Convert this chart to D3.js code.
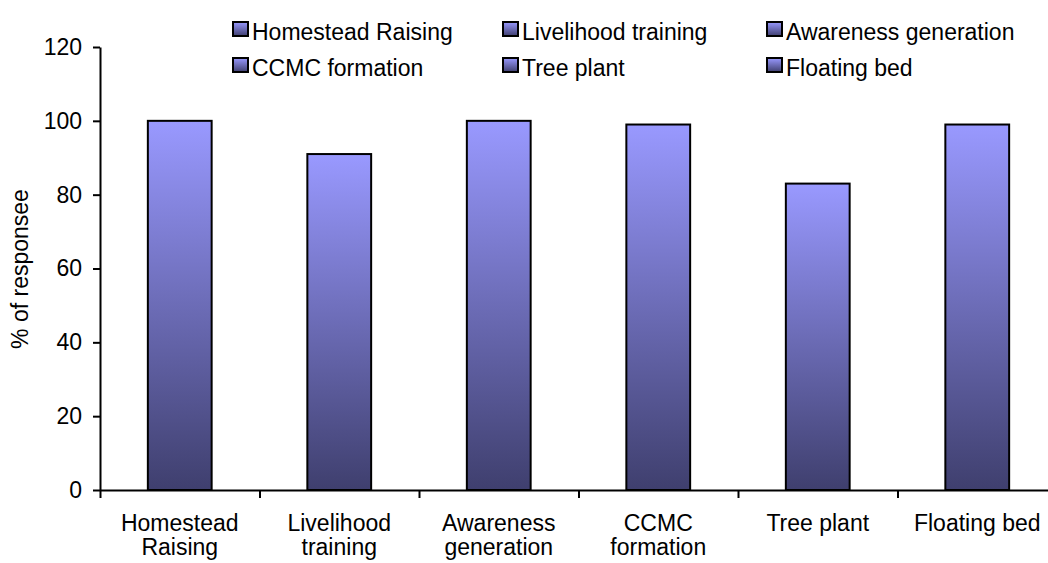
<!DOCTYPE html>
<html>
<head>
<meta charset="utf-8">
<script src="https://cdn.jsdelivr.net/npm/d3@7"></script>
<style>
  html, body { margin: 0; padding: 0; background: #fff; }
  svg { display: block; }
  text { font-family: "Liberation Sans", Arial, sans-serif; fill: #000; }
</style>
</head>
<body>
<svg id="chart" width="1048" height="563"></svg>
<script>
// ---- data ----
const categories = ["Homestead Raising", "Livelihood training", "Awareness generation", "CCMC formation", "Tree plant", "Floating bed"];
const values = [100, 91, 100, 99, 83, 99];
const xLabelLines = [["Homestead", "Raising"], ["Livelihood", "training"], ["Awareness", "generation"], ["CCMC", "formation"], ["Tree plant"], ["Floating bed"]];
const yTicks = [0, 20, 40, 60, 80, 100, 120];
const yTitle = "% of responsee";

// ---- layout ----
const W = 1048, H = 563;
const plot = { left: 100, right: 1057, top: 47, bottom: 490 };
const fontSize = 23;

const svg = d3.select("#chart");

const defs = svg.append("defs");
const grad = defs.append("linearGradient").attr("id", "barGrad")
  .attr("x1", 0).attr("y1", 0).attr("x2", 0).attr("y2", 1);
grad.append("stop").attr("offset", "0%").attr("stop-color", "#9999ff");
grad.append("stop").attr("offset", "100%").attr("stop-color", "#3f3f6e");

const x = d3.scaleBand().domain(categories)
  .range([plot.left, plot.right]).paddingInner(0.6).paddingOuter(0.3);
const y = d3.scaleLinear().domain([0, 120]).range([plot.bottom, plot.top]);

// bars
svg.append("g").selectAll("rect").data(categories).join("rect")
  .attr("x", d => x(d))
  .attr("y", (d, i) => y(values[i]))
  .attr("width", x.bandwidth())
  .attr("height", (d, i) => y(0) - y(values[i]))
  .attr("fill", "url(#barGrad)")
  .attr("stroke", "#000")
  .attr("stroke-width", 2);

// y axis
const yAxis = svg.append("g").attr("transform", `translate(${plot.left},0)`)
  .call(d3.axisLeft(y).tickValues(yTicks).tickSize(7).tickPadding(11).tickSizeOuter(0));
yAxis.select(".domain").attr("stroke", "#000").attr("stroke-width", 2);
yAxis.selectAll(".tick line").attr("stroke", "#000").attr("stroke-width", 2);
yAxis.selectAll(".tick text").attr("font-size", fontSize)
  .attr("font-family", "Liberation Sans, Arial, sans-serif").attr("fill", "#000");

// x axis: boundary ticks
const step = x.step();
const boundaryIdx = d3.range(categories.length + 1);
const xb = d3.scaleLinear().domain([0, categories.length]).range([plot.left, plot.left + step * categories.length]);
const xAxis = svg.append("g").attr("transform", `translate(0,${plot.bottom})`)
  .call(d3.axisBottom(xb).tickValues(boundaryIdx).tickSize(8).tickSizeOuter(0).tickFormat(""));
xAxis.select(".domain").attr("stroke", "#000").attr("stroke-width", 2);
xAxis.selectAll(".tick line").attr("stroke", "#000").attr("stroke-width", 2);

// x labels
const lab = svg.append("g").selectAll("text").data(categories).join("text")
  .attr("x", d => x(d) + x.bandwidth() / 2)
  .attr("y", 531)
  .attr("text-anchor", "middle")
  .attr("font-size", fontSize);
lab.each(function(d, i) {
  const t = d3.select(this);
  xLabelLines[i].forEach((ln, j) => {
    t.append("tspan").attr("x", x(d) + x.bandwidth() / 2)
      .attr("dy", j === 0 ? 0 : 24).text(ln);
  });
});

// y title
svg.append("text")
  .attr("transform", `translate(28,269) rotate(-90)`)
  .attr("text-anchor", "middle")
  .attr("font-size", fontSize)
  .text(yTitle);

// legend
const legCols = [232, 502, 766];
const legRows = [40, 76];
const leg = svg.append("g").selectAll("g").data(categories).join("g")
  .attr("transform", (d, i) => `translate(${legCols[i % 3]},${legRows[Math.floor(i / 3)]})`);
leg.append("rect")
  .attr("x", 1).attr("y", -18).attr("width", 15).attr("height", 14)
  .attr("fill", "url(#barGrad)").attr("stroke", "#000").attr("stroke-width", 2);
leg.append("text").attr("x", 20).attr("y", 0)
  .attr("font-size", fontSize).text(d => d);
</script>
</body>
</html>
